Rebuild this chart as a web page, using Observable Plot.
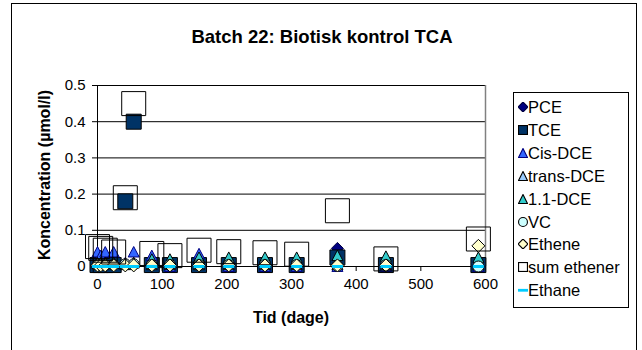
<!DOCTYPE html>
<html><head><meta charset="utf-8">
<script src="https://cdn.jsdelivr.net/npm/d3@7"></script>
<script src="https://cdn.jsdelivr.net/npm/@observablehq/plot@0.6"></script>
<style>
html,body{margin:0;padding:0;background:#fff;overflow:hidden;}
#wrap{position:relative;width:642px;height:350px;font-family:Arial,"Liberation Sans",sans-serif;color:#000;overflow:hidden;}
#chart{position:absolute;left:0;top:0;}
#frame{position:absolute;left:11px;top:3px;width:626px;height:400px;border:1.5px solid #000;box-sizing:border-box;pointer-events:none;}
#title{position:absolute;left:0;width:644px;top:26px;line-height:22px;text-align:center;font-weight:bold;font-size:18.5px;white-space:nowrap;}
#xlab{position:absolute;left:191px;width:200px;top:308px;line-height:20px;text-align:center;font-weight:bold;font-size:16px;white-space:nowrap;}
#ylab{position:absolute;left:45px;top:175px;font-weight:bold;font-size:16px;white-space:nowrap;transform:translate(-50%,-50%) rotate(-90deg);line-height:18px;}
#legend{position:absolute;left:513px;top:92px;width:116px;height:216px;border:1px solid #000;box-sizing:border-box;background:#fff;}
.item{position:absolute;left:0;height:22px;line-height:22px;font-size:16.5px;white-space:nowrap;}
.item svg{position:absolute;left:4px;top:6px;}
.item span{position:absolute;left:14px;top:0;}
</style>
</head><body>
<div id="wrap">
  <div id="chart"></div>
  <div id="frame"></div>
  <div id="title">Batch 22: Biotisk kontrol TCA</div>
  <div id="ylab">Koncentration (µmol/l)</div>
  <div id="xlab">Tid (dage)</div>
  <div id="legend"></div>
</div>
<script>
// ---- data ----
const days        = [0, 5, 12, 25, 43, 56, 84, 112, 157, 203, 259, 308, 371, 446, 589];
const PCE         = [0.003, 0.003, 0.003, 0.003, 0.003, 0.003, 0, 0, 0, 0, 0, 0, 0.05, 0, 0];
const TCE         = [0.004, 0.004, 0.004, 0.004, 0.18, 0.40, 0.004, 0.004, 0.004, 0.004, 0.004, 0.004, 0.025, 0.004, 0.004];
const cisDCE      = [0.04, 0.03, 0.04, 0.04, 0.01, 0.04, 0.03, 0, 0.035, 0, 0, 0, 0, 0, 0];
const transDCE    = [0.008, 0.008, 0.008, 0.008, 0.008, 0.01, 0.005, 0.005, 0.005, 0.005, 0.005, 0.005, 0.005, 0.005, 0.005];
const DCE11       = [0.01, 0.01, 0.01, 0.01, 0.005, 0.01, 0.02, 0.02, 0.025, 0.025, 0.025, 0.025, 0.03, 0.028, 0.025];
const VC          = [0.004, 0.004, 0.004, 0.004, 0.006, 0.006, 0.004, 0.004, 0.004, 0.004, 0.004, 0.004, 0.002, 0.004, 0];
const Ethene      = [0.003, 0.003, 0.003, 0.003, 0.003, 0.003, 0.003, 0.003, 0.003, 0.003, 0.003, 0.003, 0.003, 0.003, 0.057];
const sumEthener  = [0.055, 0.05, 0.045, 0.04, 0.19, 0.45, 0.036, 0.03, 0.045, 0.041, 0.038, 0.034, 0.154, 0.021, 0.076];
const Ethane      = [0, 0, 0, 0, 0, 0, 0, 0, 0, 0, 0, 0, 0, 0, 0];
const seriesNames = ["PCE", "TCE", "Cis-DCE", "trans-DCE", "1.1-DCE", "VC", "Ethene", "sum ethener", "Ethane"];
const xTicks = [0, 100, 200, 300, 400, 500, 600];
const yTicks = [0, 0.1, 0.2, 0.3, 0.4, 0.5];
const yTickLabels = ["0", "0.1", "0.2", "0.3", "0.4", "0.5"];

// ---- symbols (r = half width in px) ----
const symSquare = {draw(c, size){const r=Math.sqrt(size/Math.PI); c.rect(-r,-r,2*r,2*r);}};
const symDiamond = {draw(c, size){const r=Math.sqrt(size/Math.PI); c.moveTo(0,-r);c.lineTo(r,0);c.lineTo(0,r);c.lineTo(-r,0);c.closePath();}};
const symTriangle = {draw(c, size){const r=Math.sqrt(size/Math.PI); c.moveTo(0,-r);c.lineTo(r,r*0.9);c.lineTo(-r,r*0.9);c.closePath();}};
const symCircle = {draw(c, size){const r=Math.sqrt(size/Math.PI); c.moveTo(r,0);c.arc(0,0,r,0,2*Math.PI);c.closePath();}};
const symDash = {draw(c, size){const r=Math.sqrt(size/Math.PI); c.rect(-r,-1.5,2*r,3);}};

const values = [PCE, TCE, cisDCE, transDCE, DCE11, VC, Ethene, sumEthener, Ethane];
const styles = [
  {symbol: symDiamond, r: 6, fill: "#000080", stroke: "#000040"},
  {symbol: symSquare, r: 7.5, fill: "#003366", stroke: "#000000"},
  {symbol: symTriangle, r: 5.5, fill: "#3366FF", stroke: "#000080"},
  {symbol: symTriangle, r: 5.5, fill: "#99CCFF", stroke: "#000000"},
  {symbol: symTriangle, r: 5.5, fill: "#33CCCC", stroke: "#000000"},
  {symbol: symCircle, r: 5.5, fill: "#CCFFFF", stroke: "#000000"},
  {symbol: symDiamond, r: 6.5, fill: "#FFFFCC", stroke: "#000000"},
  {symbol: symSquare, r: 12, fill: "none", stroke: "#000000"},
  {symbol: symDash, r: 5.5, fill: "#00CCFF", stroke: "none"}
];

const data = seriesNames.map((name, k) => days.map((d, i) => ({day: d, value: values[k][i], series: name})));

const dotMarks = data.map((rows, k) => Plot.dot(rows, {
  x: "day", y: "value", symbol: styles[k].symbol, r: styles[k].r,
  fill: styles[k].fill, stroke: styles[k].stroke, strokeWidth: 1
}));

const chart = Plot.plot({
  width: 642, height: 350,
  marginLeft: 97, marginRight: 157, marginTop: 85, marginBottom: 84,
  style: {fontFamily: "Arial, 'Liberation Sans', sans-serif", fontSize: "15px", color: "#000", background: "transparent", overflow: "visible"},
  x: {domain: [0, 600], ticks: xTicks, tickSize: 5, tickPadding: 7, tickFormat: d => String(d), label: null, line: false},
  y: {domain: [0, 0.5], ticks: yTicks, tickSize: 5, tickPadding: 7, tickFormat: (d, i) => yTickLabels[i], label: null},
  marks: [
    Plot.gridY(yTicks.slice(1), {stroke: "#000", strokeOpacity: 1, strokeWidth: 1}),
    Plot.ruleX([600], {stroke: "#808080", strokeWidth: 1.5}),
    Plot.ruleY([0], {stroke: "#000", strokeWidth: 1}),
    Plot.ruleX([0], {stroke: "#000", strokeWidth: 1}),
    ...dotMarks
  ]
});
document.getElementById("chart").appendChild(chart);

// ---- legend ----
const legSyms = {
  "PCE": '<path d="M4.5,0L9,4.5L4.5,9L0,4.5Z" fill="#000080" stroke="#000040"/>',
  "TCE": '<rect x="0.5" y="0.5" width="8" height="8" fill="#003366" stroke="#000"/>',
  "Cis-DCE": '<path d="M4.5,0.5L8.5,8.5L0.5,8.5Z" fill="#3366FF" stroke="#000080"/>',
  "trans-DCE": '<path d="M4.5,0.5L8.5,8.5L0.5,8.5Z" fill="#99CCFF" stroke="#000"/>',
  "1.1-DCE": '<path d="M4.5,0.5L8.5,8.5L0.5,8.5Z" fill="#33CCCC" stroke="#000"/>',
  "VC": '<circle cx="4.5" cy="4.5" r="4" fill="#CCFFFF" stroke="#000"/>',
  "Ethene": '<path d="M4.5,0L9,4.5L4.5,9L0,4.5Z" fill="#FFFFCC" stroke="#000"/>',
  "sum ethener": '<rect x="0.5" y="0.5" width="8" height="8" fill="none" stroke="#000"/>',
  "Ethane": '<rect x="0" y="3.5" width="9" height="2.5" fill="#00CCFF"/>'
};
const leg = document.getElementById("legend");
seriesNames.forEach((name, i) => {
  const div = document.createElement("div");
  div.className = "item";
  div.style.top = (107 + i * 22.9 - 92 - 11 - 1) + "px";
  div.innerHTML = '<svg width="10" height="10" viewBox="0 0 9 9">' + legSyms[name] + '</svg><span>' + name + '</span>';
  leg.appendChild(div);
});
</script>
</body></html>
